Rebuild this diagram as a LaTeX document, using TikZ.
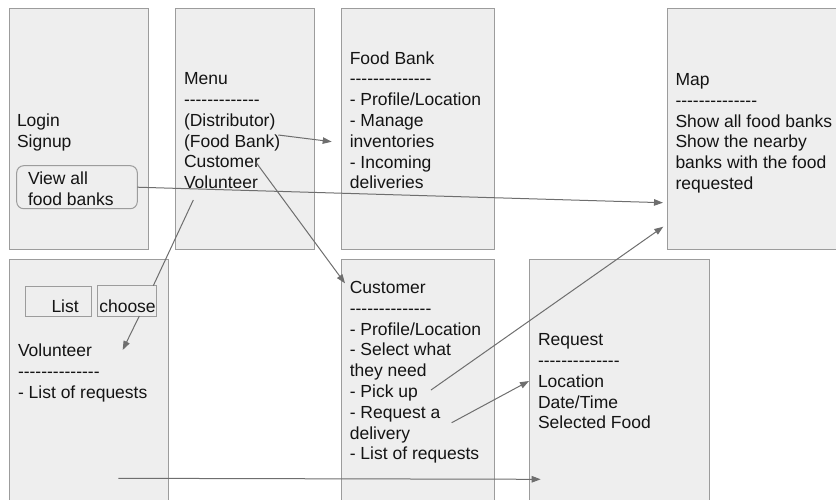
\documentclass[tikz,border=0pt]{standalone}
\usepackage{fontspec}
\setmainfont{Liberation Sans}[Ligatures=TeXOff]
\usetikzlibrary{arrows.meta}

\definecolor{panelfill}{HTML}{EEEEEE}
\definecolor{panelline}{HTML}{9C9C9C}
\definecolor{wiregray}{HTML}{6E6E6E}
\definecolor{ink}{HTML}{141414}

% invisible strut that fixes the first baseline 14pt below the node top
\newcommand\topstrut{\rule{0pt}{14pt}}

\begin{document}
\begin{tikzpicture}[x=1pt,y=-1pt,
  panel/.style={draw=panelline, fill=panelfill, line width=1pt, anchor=north west,
                inner sep=0pt, outer sep=0pt},
  txt/.style={anchor=north west, yshift=14pt, inner sep=0pt, outer sep=0pt, align=left,
              text=ink, font=\fontsize{17.5}{20.8}\selectfont},
  link/.style={draw=wiregray, line width=1pt},
  arrowlink/.style={link, -{Triangle[length=9pt,width=6.5pt]}}]

\path[use as bounding box] (0,0) rectangle (836,499);
\clip (0,0) rectangle (836,499);

% screens, top row
\node[panel, minimum width=139pt, minimum height=241pt] (login)    at (9,8)   {};
\node[panel, minimum width=139pt, minimum height=241pt] (menu)     at (175,8) {};
\node[panel, minimum width=153pt, minimum height=241pt] (foodbank) at (341,8) {};
\node[panel, minimum width=175pt, minimum height=241pt] (map)      at (667,8) {};
% screens, bottom row
\node[panel, minimum width=159pt, minimum height=250pt] (volunteer) at (9,259)   {};
\node[panel, minimum width=153pt, minimum height=250pt] (customer)  at (341,259) {};
\node[panel, minimum width=180pt, minimum height=250pt] (request)   at (529,259) {};

% buttons inside screens
\node[panel, rounded corners=7pt, minimum width=120.6pt, minimum height=43pt] (viewall) at (16.7,165.7) {};
\node[panel, minimum width=65.7pt, minimum height=30pt]  (listbtn)   at (25.3,286.7) {};
\node[panel, minimum width=59pt,   minimum height=30.3pt] (choosebtn) at (97.7,285.7) {};

% screen contents
\node[txt] (logintext) at (17,126.4) {\topstrut Login\\Signup};
\node[txt] (menutext) at (184,84.7)
  {\topstrut Menu\\-------------\\(Distributor)\\(Food Bank)\\Customer\\Volunteer};
\node[txt] (fbtext) at (349.8,64)
  {\topstrut Food Bank\\--------------\\- Profile/Location\\- Manage\\inventories\\- Incoming\\deliveries};
\node[txt] (maptext) at (675.5,85.5)
  {\topstrut Map\\--------------\\Show all food banks\\Show the nearby\\banks with the food\\requested};
\node[txt] (viewtext) at (28,184.5) {\topstrut View all\\food banks};
\node[txt] (listtext) at (51.5,312.4) {\topstrut List};
\node[txt] (choosetext) at (99.3,312) {\topstrut choose};
\node[txt] (voltext) at (18,356.5)
  {\topstrut Volunteer\\--------------\\- List of requests};
\node[txt] (custtext) at (349.8,293.4)
  {\topstrut Customer\\--------------\\- Profile/Location\\- Select what\\they need\\- Pick up\\- Request a\\delivery\\- List of requests};
\node[txt] (reqtext) at (538,345.7)
  {\topstrut Request\\--------------\\Location\\Date/Time\\Selected Food};

% connector end points
\coordinate (fbFrom)       at (278.3,135);
\coordinate (fbTo)         at (331.7,141.7);
\coordinate (mapInA)       at (663,202.7);
\coordinate (custFrom)     at (256.7,163.3);
\coordinate (custTo)       at (345,283.3);
\coordinate (volFrom)      at (193.3,200);
\coordinate (chooseTop)    at (153.3,285.7);
\coordinate (chooseBottom) at (139.3,316);
\coordinate (volTo)        at (122.7,350);
\coordinate (pickFrom)     at (431,390);
\coordinate (mapInB)       at (663.3,226.7);
\coordinate (reqFrom)      at (451.7,422.7);
\coordinate (reqToA)       at (529,381);
\coordinate (listFrom)     at (118.3,478.3);
\coordinate (reqToB)       at (540.7,479.3);

% navigation
\draw[arrowlink] (fbFrom) -- (fbTo);
\draw[arrowlink] (viewall.east) -- (mapInA);
\draw[arrowlink] (custFrom) -- (custTo);
\draw[link] (volFrom) -- (chooseTop);
\draw[arrowlink] (chooseBottom) -- (volTo);
\draw[arrowlink] (pickFrom) -- (mapInB);
\draw[arrowlink] (reqFrom) -- (reqToA);
\draw[arrowlink] (listFrom) -- (reqToB);

\end{tikzpicture}
\end{document}
